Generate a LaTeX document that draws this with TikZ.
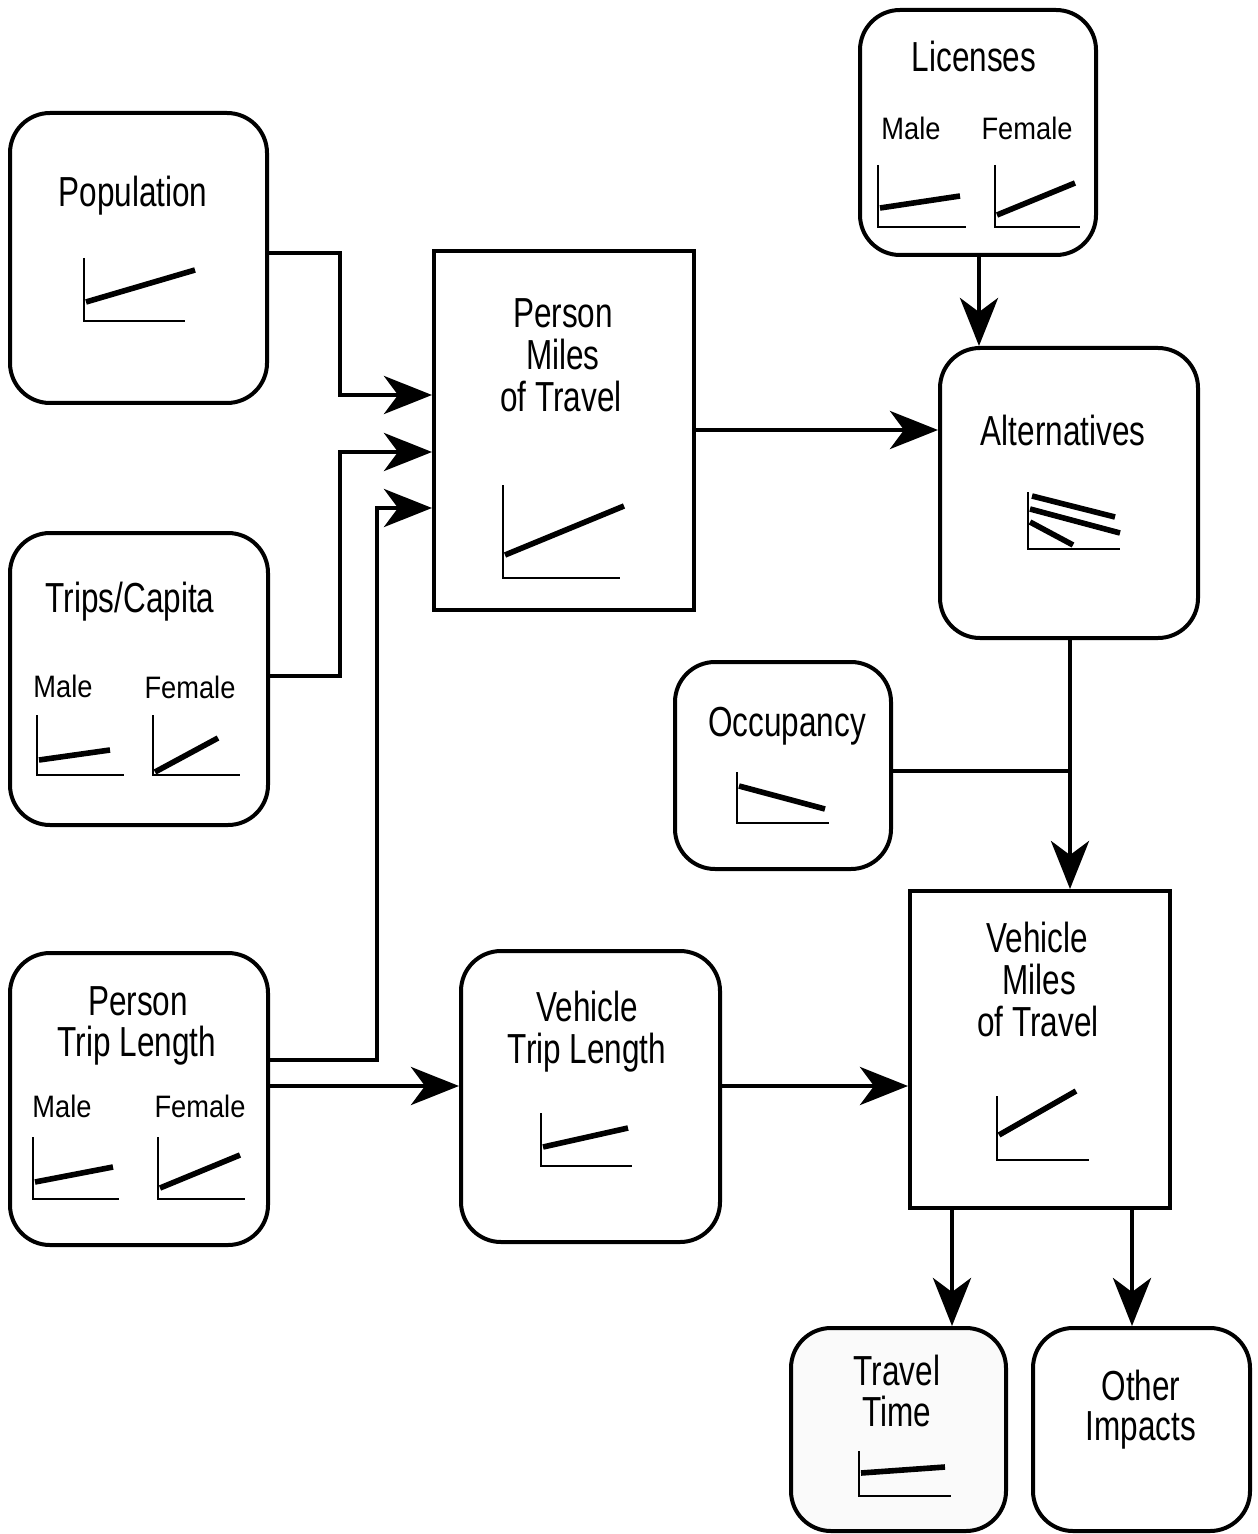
\documentclass[tikz,border=0pt]{standalone}
\usepackage{fontspec}
\setmainfont{Liberation Sans}
\newfontfamily\titlefont[FakeStretch=0.75]{Liberation Sans}
\newfontfamily\lblfont[FakeStretch=0.88]{Liberation Sans}
\usetikzlibrary{arrows.meta}
\begin{document}
\begin{tikzpicture}[x=0.5pt,y=-0.5pt,
  rbox/.style={draw,line width=2pt,rounded corners=20pt,inner sep=0pt},
  sbox/.style={draw,line width=2pt,inner sep=0pt},
  ttl/.style={anchor=base,inner sep=0pt,font=\titlefont\fontsize{21pt}{21pt}\selectfont},
  lbl/.style={anchor=base,inner sep=0pt,font=\lblfont\fontsize{15.5pt}{15.5pt}\selectfont},
  axis/.style={line width=1.2pt},
  trend/.style={line width=2.8pt},
  conn/.style={line width=2.4pt},
  arr/.style={conn,-{Stealth[length=24pt,width=19pt,inset=7pt]}}]
\useasboundingbox (0,0) rectangle (1257,1534);
% boxes
\node[rbox,minimum width=128.5pt,minimum height=145pt] (pop) at (138.5,258) {};
\node[rbox,minimum width=129pt,minimum height=146pt] (trips) at (139,679) {};
\node[rbox,minimum width=129pt,minimum height=146pt] (ptl) at (139,1099) {};
\node[sbox,minimum width=130pt,minimum height=179.5pt] (pmt) at (564,430.5) {};
\node[rbox,minimum width=118pt,minimum height=122.5pt] (lic) at (978,132.5) {};
\node[rbox,minimum width=129pt,minimum height=145pt] (alt) at (1069,493) {};
\node[rbox,minimum width=108pt,minimum height=103.5pt] (occ) at (783,765.5) {};
\node[rbox,minimum width=129.5pt,minimum height=145.5pt] (vtl) at (590.5,1096.5) {};
\node[sbox,minimum width=130pt,minimum height=158.5pt] (vmt) at (1040,1049.5) {};
\node[rbox,fill=black!2,minimum width=107.5pt,minimum height=101.5pt] (tt) at (898.5,1429.5) {};
\node[rbox,minimum width=108.5pt,minimum height=101.5pt] (oi) at (1141.5,1429.5) {};
% titles
\node[ttl] (tpop) at (133,207) {Population};
\node[ttl] (ttrips) at (130,612) {Trips/Capita};
\node[ttl] (tptl1) at (138,1015) {Person};
\node[ttl] (tptl2) at (137,1056) {Trip Length};
\node[ttl] (tpmt1) at (563,328) {Person};
\node[ttl] (tpmt2) at (563,370) {Miles};
\node[ttl] (tpmt3) at (561,412) {of Travel};
\node[ttl] (tlic) at (974,72) {Licenses};
\node[ttl] (talt) at (1063,445) {Alternatives};
\node[ttl] (tocc) at (787,736) {Occupancy};
\node[ttl] (tvtl1) at (587,1021) {Vehicle};
\node[ttl] (tvtl2) at (587,1063) {Trip Length};
\node[ttl] (tvmt1) at (1037,952) {Vehicle};
\node[ttl] (tvmt2) at (1039,994) {Miles};
\node[ttl] (tvmt3) at (1038,1036) {of Travel};
\node[ttl] (ttt1) at (897,1385) {Travel};
\node[ttl] (ttt2) at (897,1426) {Time};
\node[ttl] (toi1) at (1141,1400) {Other};
\node[ttl] (toi2) at (1141,1440) {Impacts};
% small labels
\node[lbl] (lm1) at (63,697) {Male};
\node[lbl] (lf1) at (190,698) {Female};
\node[lbl] (lm2) at (62,1117) {Male};
\node[lbl] (lf2) at (200,1117) {Female};
\node[lbl] (lm3) at (911,140) {Male};
\node[lbl] (lf3) at (1027,140) {Female};
% charts
\draw[axis] (84,258) -- (84,321) -- (185,321);
\draw[trend] (86,302) -- (195,270);
\draw[axis] (37,715) -- (37,775) -- (124,775);
\draw[trend] (39,760) -- (110,750);
\draw[axis] (153,715) -- (153,775) -- (240,775);
\draw[trend] (155,772) -- (218,738);
\draw[axis] (33,1137) -- (33,1199) -- (119,1199);
\draw[trend] (35,1182) -- (113,1167);
\draw[axis] (158,1137) -- (158,1199) -- (245,1199);
\draw[trend] (160,1188) -- (240,1155);
\draw[axis] (503,485) -- (503,578) -- (620,578);
\draw[trend] (505,555) -- (624,506);
\draw[axis] (878,165) -- (878,227) -- (966,227);
\draw[trend] (880,208) -- (960,196);
\draw[axis] (995,165) -- (995,227) -- (1080,227);
\draw[trend] (997,215) -- (1075,183);
\draw[axis] (1028,492) -- (1028,549) -- (1120,549);
\draw[trend] (1032,496) -- (1115,517);
\draw[trend] (1030,509) -- (1120,533);
\draw[trend] (1030,522) -- (1073,545);
\draw[axis] (737,772) -- (737,823) -- (829,823);
\draw[trend] (739,786) -- (825,809);
\draw[axis] (541,1113) -- (541,1166) -- (632,1166);
\draw[trend] (543,1147) -- (628,1128);
\draw[axis] (997,1096) -- (997,1160) -- (1089,1160);
\draw[trend] (999,1135) -- (1076,1091);
\draw[axis] (859,1451) -- (859,1496) -- (951,1496);
\draw[trend] (861,1473) -- (945,1467);
% connectors
\coordinate (occJ) at (1070,771);
\draw[arr] (pop.east |- 0,253) -- (340,253) -- (340,395) -- (pmt.west |- 0,395);
\draw[arr] (trips.east |- 0,676) -- (340,676) -- (340,452) -- (pmt.west |- 0,452);
\draw[arr] (ptl.east |- 0,1060) -- (377,1060) -- (377,508) -- (pmt.west |- 0,508);
\draw[arr] (ptl.east |- 0,1086) -- (vtl.west |- 0,1086);
\draw[arr] (pmt.east |- 0,430) -- (alt.west |- 0,430);
\draw[arr] (lic.south -| 979,0) -- (alt.north -| 979,0);
\draw[arr] (alt.south -| 1070,0) -- (vmt.north -| 1070,0);
\draw[conn] (occ.east |- occJ) -- (occJ);
\draw[arr] (vtl.east |- 0,1086) -- (vmt.west |- 0,1086);
\draw[arr] (vmt.south -| 952,0) -- (tt.north -| 952,0);
\draw[arr] (vmt.south -| 1132,0) -- (oi.north -| 1132,0);
\end{tikzpicture}
\end{document}
